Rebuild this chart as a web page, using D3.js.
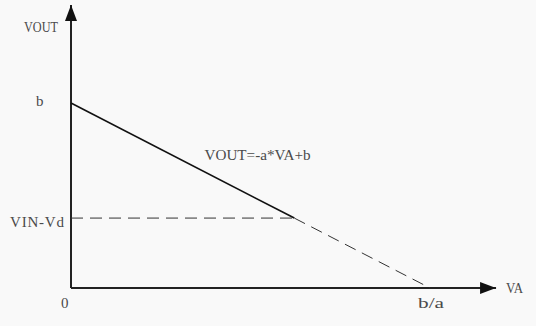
<!DOCTYPE html>
<html><head><meta charset="utf-8">
<script src="https://cdn.jsdelivr.net/npm/d3@7/dist/d3.min.js"></script>
<style>html,body{margin:0;padding:0;background:#f9f9f9;}svg{display:block;}</style>
</head><body>
<script>
// Data (normalized: a = 1, b = 1)
const a = 1;
const b = 1;
const vinVd = 0.378;                 // level of VIN-Vd relative to b
const xAxisMax = [1.184];            // extent of VA axis (in units of b/a)
const yAxisMax = [1.53];             // extent of VOUT axis (in units of b)
const xTickValues = [0, b / a];
const xTickLabels = ["0", "b/a"];
const yTickValues = [b, vinVd];
const yTickLabels = ["b", "VIN-Vd"];
const axisTitles = ["VA", "VOUT"];
const equationLabel = ["VOUT=-a*VA+b"];

const W = 536, H = 326;
const svg = d3.select("body").append("svg").attr("width", W).attr("height", H);

const x = d3.scaleLinear().domain([0, b / a]).range([71, 430]);
const y = d3.scaleLinear().domain([0, b]).range([288, 103]);

const font = "'Liberation Serif', 'DejaVu Serif', serif";
const textColor = "#4a4a4a";

svg.append("defs").append("marker")
  .attr("id", "arr").attr("viewBox", "0 0 16 12").attr("refX", 16).attr("refY", 6)
  .attr("markerWidth", 16).attr("markerHeight", 12).attr("markerUnits", "userSpaceOnUse")
  .attr("orient", "auto")
  .append("path").attr("d", "M0,0 L16,6 L0,12 Z").attr("fill", "#111");

// Axes
svg.append("line").attr("x1", x(0)).attr("y1", y(0)).attr("x2", x(0)).attr("y2", y(yAxisMax[0]))
  .attr("stroke", "#222").attr("stroke-width", 2).attr("marker-end", "url(#arr)");
svg.append("line").attr("x1", x(0)).attr("y1", y(0)).attr("x2", x(xAxisMax[0])).attr("y2", y(0))
  .attr("stroke", "#222").attr("stroke-width", 2).attr("marker-end", "url(#arr)");

// Line VOUT = -a*VA + b
const f = va => -a * va + b;
const vaCross = (b - vinVd) / a;
const line = d3.line().x(d => x(d)).y(d => y(f(d)));
svg.append("path").attr("d", line([0, vaCross])).attr("fill", "none")
  .attr("stroke", "#111").attr("stroke-width", 1.6);
svg.append("path").attr("d", line([vaCross, b / a])).attr("fill", "none")
  .attr("stroke", "#333").attr("stroke-width", 1).attr("stroke-dasharray", "12,7");
// Horizontal dashed at VIN-Vd
svg.append("line").attr("x1", x(0)).attr("x2", x(vaCross)).attr("y1", y(vinVd)).attr("y2", y(vinVd))
  .attr("stroke", "#333").attr("stroke-width", 1).attr("stroke-dasharray", "12,7");

// Text helper with fitted widths (reference font is monospaced-ish)
const txt = (s, px, py, len, adj) => {
  const t = svg.append("text").text(s).attr("x", px).attr("y", py)
    .attr("font-family", font).attr("font-size", 15).attr("fill", textColor);
  if (len) t.attr("textLength", len).attr("lengthAdjust", adj || "spacingAndGlyphs");
  return t;
};

// y tick labels
txt(yTickLabels[0], x(0) - 35, y(yTickValues[0]) + 3);
txt(yTickLabels[1], x(0) - 61, y(yTickValues[1]) + 9, 54, "spacing");
// x tick labels
txt(xTickLabels[0], x(xTickValues[0]) - 10, y(0) + 20);
txt(xTickLabels[1], x(xTickValues[1]) - 12, y(0) + 20, 26);
// axis titles
txt(axisTitles[0], x(xAxisMax[0]) + 10, y(0) + 5, 17);
txt(axisTitles[1], x(0) - 47, 32, 34);
// equation
txt(equationLabel[0], x(0.372), y(0.7) + 1, 106);
</script>
</body></html>
